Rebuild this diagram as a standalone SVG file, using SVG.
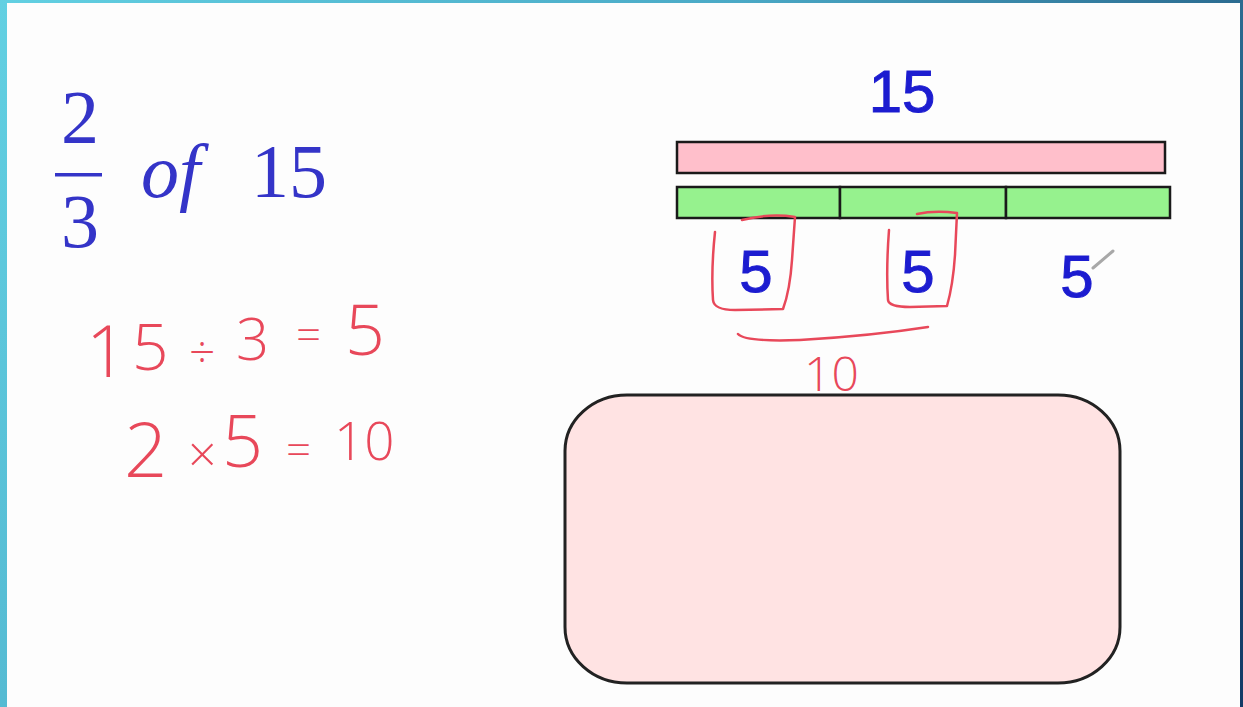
<svg xmlns="http://www.w3.org/2000/svg" width="1243" height="707" viewBox="0 0 1243 707">
<defs>
<linearGradient id="bg" x1="0" y1="0" x2="1243" y2="707" gradientUnits="userSpaceOnUse">
<stop offset="0" stop-color="#62d0e2"/>
<stop offset="0.45" stop-color="#4aa9c6"/>
<stop offset="1" stop-color="#123a66"/>
</linearGradient>
</defs>
<style>
.tex{font-family:"Liberation Serif","DejaVu Serif",serif;fill:#3434c8;font-size:76px}
.lbl{font-family:"Liberation Sans",Arial,sans-serif;fill:#1c1cd0;stroke:#1c1cd0;stroke-width:1;font-size:60px;text-anchor:middle}
.hand{font-family:"Open Sans","Liberation Sans",sans-serif;font-weight:300;fill:#e8485a}
.pen{fill:none;stroke:#e8485a;stroke-width:2.5;stroke-linecap:round;stroke-linejoin:round}
.bar{stroke:#1a1a1a;stroke-width:2.5}
</style>
<rect width="1243" height="707" fill="url(#bg)"/>
<rect x="7" y="3" width="1233" height="704" fill="#fdfdfd"/>

<g id="expression">
<text class="tex" x="80" y="143" text-anchor="middle">2</text>
<rect x="55" y="173" width="47" height="3.5" fill="#3434c8"/>
<text class="tex" x="80" y="247" text-anchor="middle">3</text>
<text class="tex" x="141" y="197" font-style="italic">of</text>
<text class="tex" x="251" y="197">15</text>
</g>

<g id="working">
<text class="hand"><tspan x="86" y="377" font-size="72">1</tspan><tspan x="132" y="370" font-size="64">5</tspan><tspan x="189" y="368" font-size="46">÷</tspan><tspan x="236" y="360" font-size="58">3</tspan><tspan x="296" y="350" font-size="44">=</tspan><tspan x="345" y="355" font-size="70">5</tspan></text>
<text class="hand"><tspan x="124" y="477" font-size="76">2</tspan><tspan x="188" y="472" font-size="50">×</tspan><tspan x="222" y="467" font-size="72">5</tspan><tspan x="286" y="465" font-size="44">=</tspan><tspan x="334" y="460" font-size="53">10</tspan></text>
</g>

<g id="whole">
<text class="lbl" x="902" y="112">15</text>
<rect class="bar" x="677" y="142" width="488" height="31" fill="#ffbfcb"/>
</g>

<g id="parts">
<rect class="bar" x="677" y="187" width="163" height="31" fill="#96f28e"/>
<rect class="bar" x="840" y="187" width="166" height="31" fill="#96f28e"/>
<rect class="bar" x="1006" y="187" width="164" height="31" fill="#96f28e"/>
<text class="lbl" x="756" y="292">5</text>
<text class="lbl" x="918" y="292">5</text>
<text class="lbl" x="1077" y="297">5</text>
</g>

<g id="annotations">
<path class="pen" d="M715 232 Q711 270 713 300 Q714 310 735 310 L783 309 Q790 290 792 260 L795 217 Q770 213 742 220"/>
<path class="pen" d="M889 230 Q886 270 888 300 Q889 307 910 307 L947 306 Q953 285 955 255 L957 213 Q935 210 917 214"/>
<path class="pen" d="M738 334 Q745 342 800 340 Q870 336 928 327"/>
<text class="hand" font-size="48" x="804" y="391">10</text>
<path d="M1093 268 L1113 251" stroke="#a8a8a8" stroke-width="3" stroke-linecap="round"/>
</g>

<g id="answer-box">
<rect x="565" y="395" width="555" height="288" rx="62" ry="56" fill="#ffe3e3" stroke="#222" stroke-width="3"/>
</g>
</svg>
